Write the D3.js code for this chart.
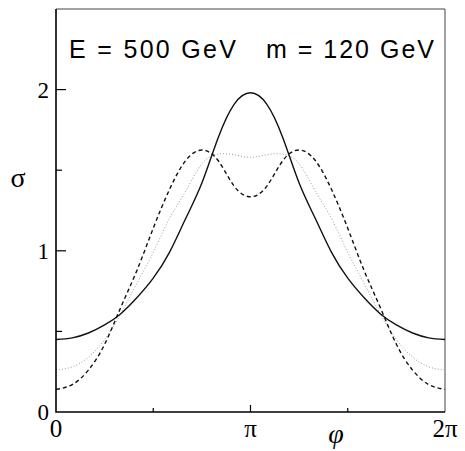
<!DOCTYPE html>
<html>
<head>
<meta charset="utf-8">
<script src="https://cdn.jsdelivr.net/npm/d3@7"></script>
<style>
  body { margin: 0; background: #fff; }
  svg { display: block; }
</style>
</head>
<body>
<div id="chart"></div>
<script>
// phi sampled every pi/12, from 0 to 2pi (in units of pi)
var phiSteps = d3.range(0, 25).map(function(k) { return k / 12; });

// sigma
var solidVals = [0.45, 0.46, 0.49, 0.54, 0.61, 0.71, 0.83, 0.99, 1.20, 1.42, 1.70, 1.91, 1.98,
                 1.91, 1.70, 1.42, 1.20, 0.99, 0.83, 0.71, 0.61, 0.54, 0.49, 0.46, 0.45];
var dashedVals = [0.14, 0.17, 0.26, 0.42, 0.65, 0.88, 1.14, 1.38, 1.56, 1.625, 1.56, 1.40, 1.335,
                  1.40, 1.56, 1.625, 1.56, 1.38, 1.14, 0.88, 0.65, 0.42, 0.26, 0.17, 0.14];
var dottedVals = [0.26, 0.28, 0.34, 0.45, 0.61, 0.80, 0.99, 1.20, 1.37, 1.54, 1.60, 1.595, 1.58,
                  1.595, 1.60, 1.54, 1.37, 1.20, 0.99, 0.80, 0.61, 0.45, 0.34, 0.28, 0.26];

var xTicks = [0, 0.5, 1, 1.5, 2];
var xTickLabels = {0: "0", 1: "\u03c0", 2: "2\u03c0"};
var yTicks = [0, 0.5, 1, 1.5, 2];
var yTickLabels = {0: "0", 1: "1", 2: "2"};

var width = 465, height = 451;
var margin = {left: 56, right: 20, top: 9, bottom: 39};

var svg = d3.select("#chart").append("svg")
    .attr("width", width)
    .attr("height", height);

var x = d3.scaleLinear().domain([0, 2]).range([margin.left, width - margin.right]);
var y = d3.scaleLinear().domain([0, 2.5]).range([height - margin.bottom, margin.top]);

// frame (top and right)
svg.append("path")
    .attr("d", "M" + x(0) + "," + y(2.5) + "H" + x(2) + "V" + y(0))
    .attr("fill", "none")
    .attr("stroke", "#444")
    .attr("stroke-width", 1);

// curves
function drawCurve(vals, dash, color, w) {
    var line = d3.line()
        .x(function(d, i) { return x(phiSteps[i]); })
        .y(function(d) { return y(d); })
        .curve(d3.curveNatural);
    svg.append("path")
        .datum(vals)
        .attr("d", line)
        .attr("fill", "none")
        .attr("stroke", color)
        .attr("stroke-width", w)
        .attr("stroke-dasharray", dash);
}
drawCurve(dottedVals, "1,2", "#999", 1);
drawCurve(dashedVals, "4,3", "#111", 1.4);
drawCurve(solidVals, null, "#111", 1.4);

// axes lines
svg.append("path")
    .attr("d", "M" + x(0) + "," + y(2.5) + "V" + y(0) + "H" + x(2))
    .attr("fill", "none")
    .attr("stroke", "#000")
    .attr("stroke-width", 1.6);

// x ticks (inward)
svg.selectAll(".xtick").data(xTicks.slice(1, 4)).enter().append("line")
    .attr("x1", function(d) { return x(d); })
    .attr("x2", function(d) { return x(d); })
    .attr("y1", y(0))
    .attr("y2", function(d) { return y(0) - (d === 1 ? 7 : 4); })
    .attr("stroke", "#000")
    .attr("stroke-width", 1.2);

// y ticks (inward)
svg.selectAll(".ytick").data(yTicks.slice(1)).enter().append("line")
    .attr("x1", x(0))
    .attr("x2", function(d) { return x(0) + (d % 1 === 0 ? 10 : 6); })
    .attr("y1", function(d) { return y(d); })
    .attr("y2", function(d) { return y(d); })
    .attr("stroke", "#000")
    .attr("stroke-width", 1.2);

// tick labels
svg.selectAll(".xlab").data([0, 1, 2]).enter().append("text")
    .attr("x", function(d) { return x(d); })
    .attr("y", 437)
    .attr("text-anchor", "middle")
    .style("font-family", "'Liberation Serif', 'Times New Roman', serif")
    .style("font-size", "25px")
    .text(function(d) { return xTickLabels[d]; });

svg.selectAll(".ylab").data([0, 1, 2]).enter().append("text")
    .attr("x", 49)
    .attr("y", function(d) { return y(d); })
    .attr("dy", "0.35em")
    .attr("text-anchor", "end")
    .style("font-family", "'Liberation Serif', 'Times New Roman', serif")
    .style("font-size", "23px")
    .text(function(d) { return yTickLabels[d]; });

// axis titles
svg.append("text")
    .attr("x", 336)
    .attr("y", 443)
    .attr("text-anchor", "middle")
    .style("font-family", "'Liberation Serif', 'Times New Roman', serif")
    .style("font-style", "italic")
    .style("font-size", "28px")
    .text("\u03c6");

svg.append("text")
    .attr("x", 18)
    .attr("y", 187)
    .attr("text-anchor", "middle")
    .style("font-family", "'Liberation Serif', 'Times New Roman', serif")
    .style("font-size", "28px")
    .text("\u03c3");

// annotations
svg.append("text")
    .attr("x", 69)
    .attr("y", 58)
    .attr("textLength", 167)
    .attr("lengthAdjust", "spacing")
    .style("font-family", "'Liberation Sans', Arial, sans-serif")
    .style("font-size", "25px")
    .style("font-weight", 300)
    .text("E = 500 GeV");

svg.append("text")
    .attr("x", 266)
    .attr("y", 58)
    .attr("textLength", 168)
    .attr("lengthAdjust", "spacing")
    .style("font-family", "'Liberation Sans', Arial, sans-serif")
    .style("font-size", "25px")
    .style("font-weight", 300)
    .text("m = 120 GeV");
</script>
</body>
</html>
